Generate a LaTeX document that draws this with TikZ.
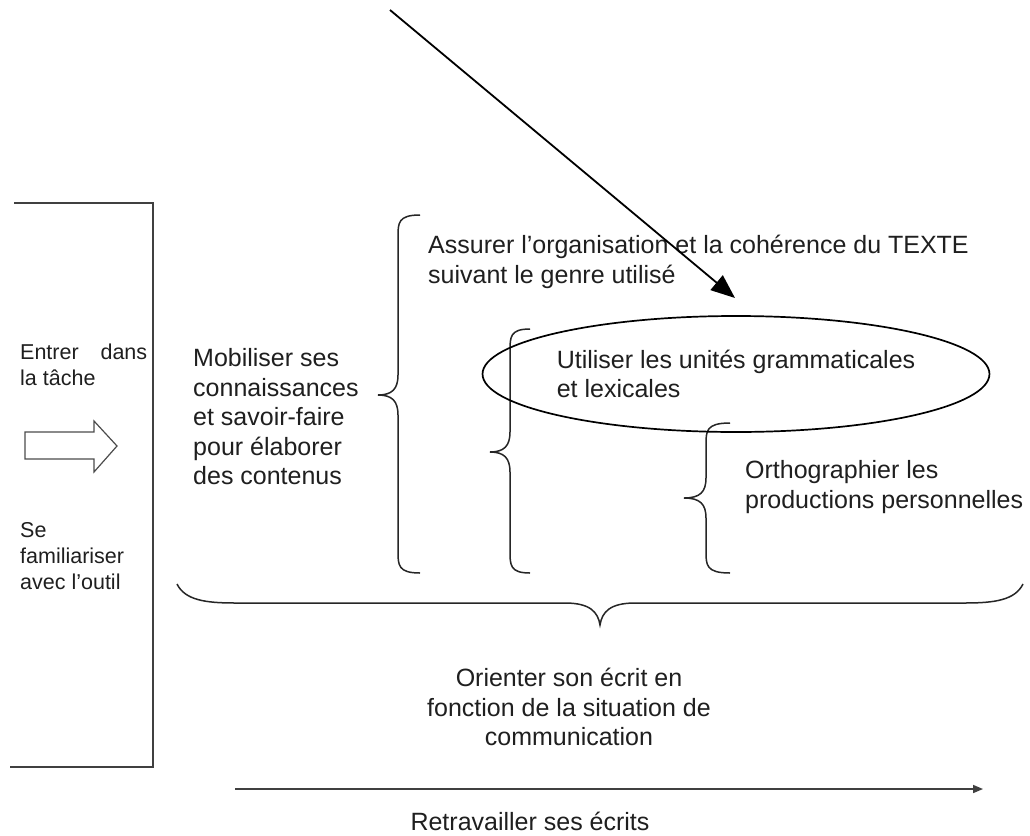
\documentclass[tikz,border=0pt]{standalone}
\usepackage{fontspec}
\setmainfont{Liberation Sans}
\usetikzlibrary{arrows.meta,shapes.geometric}
\newcommand{\myLbrace}[6]{%
  \draw[bracepath] ({#1},{#4}) .. controls ({#2},{#4}) and ({#2},{#4+8}) .. ({#2},{#4+22})
    -- ({#2},{#5-20}) .. controls ({#2},{#5-6}) and ({#2-6},{#5}) .. ({#3},{#5})
    .. controls ({#2-6},{#5}) and ({#2},{#5+6}) .. ({#2},{#5+20})
    -- ({#2},{#6-22}) .. controls ({#2},{#6-8}) and ({#2},{#6}) .. ({#1},{#6});}
\begin{document}
\begin{tikzpicture}[x=1pt,y=-1pt,
  bigtxt/.style={inner sep=0pt, align=left, text=black!88, font=\fontsize{25}{29.5}\selectfont},
  smalltxt/.style={inner sep=0pt, align=left, text=black!88, font=\fontsize{21.5}{26}\selectfont},
  bracepath/.style={line width=1.5pt, black!85},
  frame/.style={line width=1.6pt, black!75},
  pointer/.style={line width=1.8pt, -{Triangle[length=24pt,width=19pt]}},
  timeline/.style={line width=1.6pt, black!75, -{Triangle[length=10pt,width=8pt]}},
  oval/.style={ellipse, draw, line width=1.7pt, inner sep=0pt, minimum width=424pt, minimum height=116pt}
]
\useasboundingbox (0,0) rectangle (1030,835);
\fill[white] (0,0) rectangle (1030,835);

% left frame
\draw[frame] (14,203) -- (153,203) -- (153,767) -- (10,767);

% left texts
\node[smalltxt, anchor=west] (entrer) at (20,365) {\makebox[127pt][s]{Entrer dans}\\la tâche};
\node[smalltxt, anchor=west] (sefam) at (20,556) {Se\\familiariser\\avec l’outil};

% block arrow
\draw[line width=1.2pt, black!70] (25,432) -- (94,432) -- (94,421) -- (117,446) -- (94,472) -- (94,459) -- (25,459) -- cycle;

% mobiliser
\node[bigtxt, anchor=west] (mob) at (193,417) {Mobiliser ses\\connaissances\\et savoir-faire\\pour élaborer\\des contenus};

% braces
\myLbrace{420}{398}{378}{215}{395}{573}
\myLbrace{530}{510}{490}{329}{452}{573}
\myLbrace{730}{706}{684}{423}{498}{573}

% texts right
\node[bigtxt, anchor=west] (assurer) at (428,262) {Assurer l’organisation et la cohérence du TEXTE\\suivant le genre utilisé};
\node[bigtxt, oval] (ell) at (736,374) {Utiliser les unités grammaticales\\et lexicales};
\node[bigtxt, anchor=west] (ortho) at (745,487) {Orthographier les\\productions personnelles};

% diagonal pointer
\coordinate (d0) at (390,10);
\coordinate (d1) at (735,298);
\draw[pointer] (d0) -- (d1);

% bottom brace
\draw[bracepath] (177,584) .. controls (185,600) and (205,603) .. (235,603) -- (565,603)
  .. controls (590,603) and (598,612) .. (600,625) .. controls (602,612) and (610,603) .. (635,603)
  -- (965,603) .. controls (995,603) and (1015,600) .. (1023,584);

\node[bigtxt, align=center] (orient) at (569,707) {Orienter son écrit en\\fonction de la situation de\\communication};

% timeline
\coordinate (t0) at (235,789);
\coordinate (t1) at (983,789);
\draw[timeline] (t0) -- (t1);
\node[bigtxt] (retrav) at (530,821) {Retravailler ses écrits};
\end{tikzpicture}
\end{document}
